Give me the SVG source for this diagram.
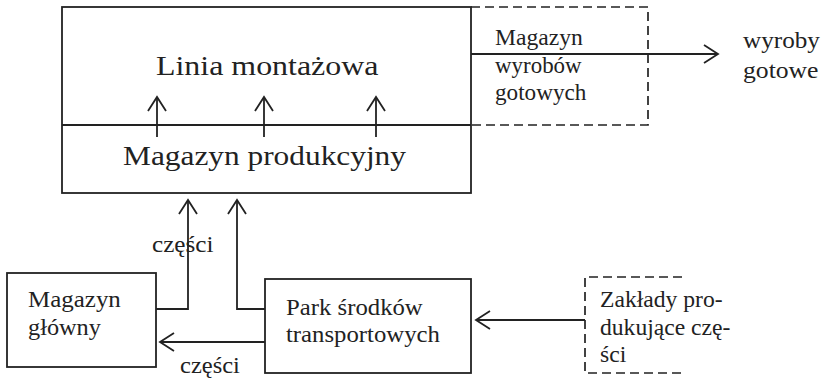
<svg xmlns="http://www.w3.org/2000/svg" width="824" height="382" viewBox="0 0 824 382">
  <defs>
    <marker id="open" markerUnits="userSpaceOnUse" markerWidth="20" markerHeight="22" refX="16" refY="10" orient="auto" viewBox="0 0 20 20">
      <path d="M2,1 L16,10 L2,19" fill="none" stroke="#222" stroke-width="1.8"/>
    </marker>
  </defs>
  <rect width="824" height="382" fill="#fff"/>

  <!-- assembly line over production store -->
  <g id="linia" fill="none" stroke="#222" stroke-width="1.8">
    <rect x="62" y="7" width="409" height="186"/>
    <line x1="62" y1="125" x2="471" y2="125"/>
  </g>
  <text id="linia-label" font-family="Liberation Serif, serif" font-size="28" fill="#222" transform="translate(156 75) scale(1.14 1)">Linia montażowa</text>
  <g id="magazyn-produkcyjny">
    <text font-family="Liberation Serif, serif" font-size="28" fill="#222" transform="translate(123 165) scale(1.12 1)">Magazyn produkcyjny</text>
  </g>

  <!-- finished goods store (dashed) -->
  <g id="magazyn-wyrobow" font-family="Liberation Serif, serif" font-size="22.5" fill="#222">
    <path d="M471,7 H648 V125 H471" fill="none" stroke="#222" stroke-width="1.7" stroke-dasharray="9 5"/>
    <text transform="translate(495 45) scale(1.05 1)">Magazyn</text>
    <text transform="translate(495 73) scale(1.02 1)">wyrobów</text>
    <text transform="translate(495 100) scale(1.03 1)">gotowych</text>
  </g>

  <g id="wyroby-gotowe" font-family="Liberation Serif, serif" font-size="22.5" fill="#222">
    <text transform="translate(743 48) scale(1.12 1)">wyroby</text>
    <text transform="translate(743 78) scale(1.14 1)">gotowe</text>
  </g>

  <g id="magazyn-glowny" font-family="Liberation Serif, serif" font-size="22.5" fill="#222">
    <rect x="7" y="273" width="149" height="94" fill="none" stroke="#222" stroke-width="1.8"/>
    <text transform="translate(28 307) scale(1.11 1)">Magazyn</text>
    <text transform="translate(28 335) scale(1.08 1)">główny</text>
  </g>

  <g id="park" font-family="Liberation Serif, serif" font-size="22.5" fill="#222">
    <rect x="265" y="279" width="206" height="94" fill="none" stroke="#222" stroke-width="1.8"/>
    <text transform="translate(286 315) scale(1.1 1)">Park środków</text>
    <text transform="translate(286 342) scale(1.1 1)">transportowych</text>
  </g>

  <g id="zaklady" font-family="Liberation Serif, serif" font-size="22.5" fill="#222">
    <path d="M682,277 H585 V373 H682" fill="none" stroke="#222" stroke-width="1.7" stroke-dasharray="9 5"/>
    <text transform="translate(600 307) scale(1.05 1)">Zakłady pro-</text>
    <text transform="translate(600 335) scale(1.05 1)">dukujące czę-</text>
    <text transform="translate(600 362) scale(1.05 1)">ści</text>
  </g>

  <g id="connectors" fill="none" stroke="#222" stroke-width="1.8">
    <path d="M157,137 V97" marker-end="url(#open)"/>
    <path d="M264,137 V97" marker-end="url(#open)"/>
    <path d="M376,137 V97" marker-end="url(#open)"/>
    <path d="M471,54 H718" marker-end="url(#open)"/>
    <path d="M156,309 H188 V200" marker-end="url(#open)"/>
    <path d="M265,309 H237 V200" marker-end="url(#open)"/>
    <path d="M265,342 H160" marker-end="url(#open)"/>
    <path d="M585,320 H476" marker-end="url(#open)"/>
  </g>
  <g id="connector-labels" font-family="Liberation Serif, serif" font-size="22.5" fill="#222">
    <text transform="translate(152 252) scale(1.12 1)">części</text>
    <text transform="translate(180 373) scale(1.09 1)">części</text>
  </g>
</svg>
